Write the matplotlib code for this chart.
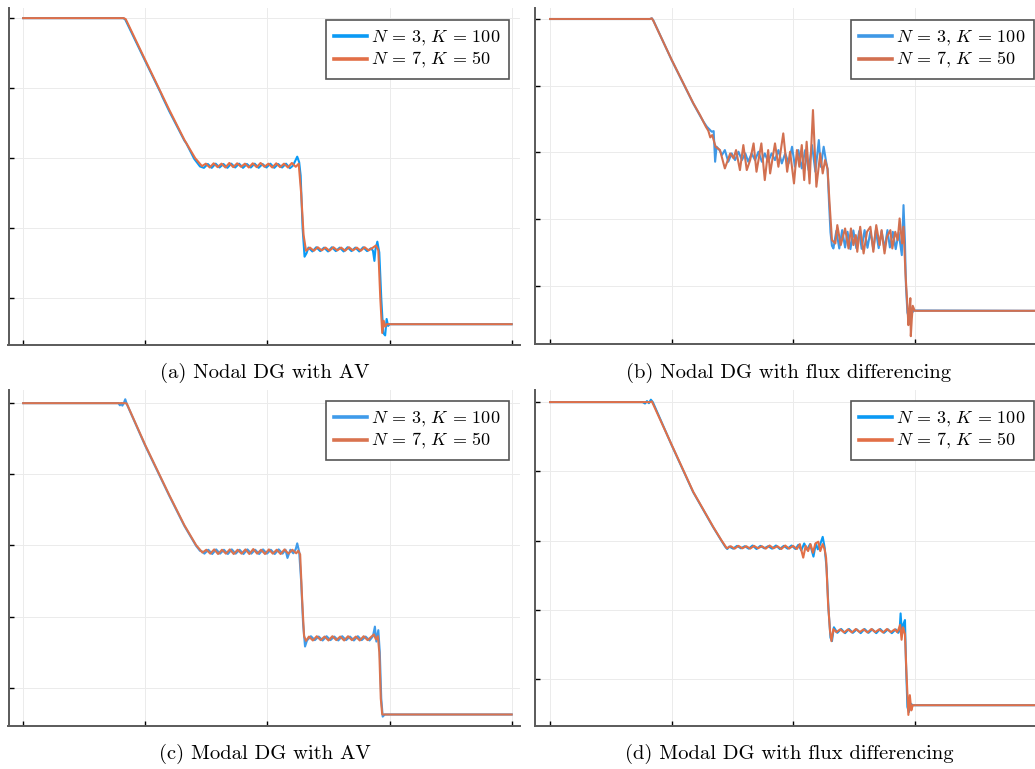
import numpy as np
import matplotlib
matplotlib.use("Agg")
import matplotlib.pyplot as plt

plt.rcParams["mathtext.fontset"] = "cm"

# density profiles, (x, rho) pairs
a_blue = [
    (0.0, 1.0), (0.205, 1.0), (0.209, 0.996), (0.250, 0.877), (0.282, 0.785), (0.285, 0.775), (0.299, 0.734),
    (0.330, 0.650), (0.334, 0.642), (0.350, 0.598), (0.362, 0.576),
    (0.370, 0.572), (0.378, 0.583), (0.386, 0.572), (0.394, 0.584), (0.402, 0.573), (0.410, 0.583), (0.418, 0.572),
    (0.426, 0.584), (0.434, 0.573), (0.442, 0.584), (0.450, 0.572), (0.458, 0.583), (0.466, 0.573), (0.474, 0.584),
    (0.482, 0.572), (0.490, 0.583), (0.498, 0.573), (0.506, 0.584), (0.514, 0.572), (0.522, 0.583), (0.530, 0.573),
    (0.538, 0.584), (0.546, 0.571), (0.552, 0.578), (0.557, 0.592), (0.561, 0.604), (0.565, 0.588), (0.568, 0.550),
    (0.572, 0.400), (0.576, 0.318), (0.580, 0.328),
    (0.584, 0.344), (0.592, 0.333), (0.600, 0.345), (0.608, 0.334), (0.616, 0.344), (0.624, 0.333), (0.632, 0.345),
    (0.640, 0.334), (0.648, 0.344), (0.656, 0.333), (0.664, 0.345), (0.672, 0.334), (0.680, 0.344), (0.688, 0.333),
    (0.696, 0.345), (0.704, 0.334), (0.712, 0.342), (0.716, 0.335), (0.719, 0.306), (0.721, 0.338), (0.725, 0.361),
    (0.729, 0.330), (0.733, 0.200), (0.737, 0.100), (0.741, 0.093), (0.744, 0.140), (0.747, 0.120), (0.750, 0.125),
    (1.0, 0.125)]
a_orange = [
    (0.0, 1.0), (0.206, 1.0), (0.210, 0.997), (0.250, 0.880), (0.299, 0.738), (0.330, 0.652), (0.352, 0.600),
    (0.366, 0.577),
    (0.374, 0.584), (0.382, 0.573), (0.390, 0.585), (0.398, 0.574), (0.406, 0.584), (0.414, 0.573), (0.422, 0.586),
    (0.430, 0.574), (0.438, 0.585), (0.446, 0.575), (0.454, 0.584), (0.462, 0.573), (0.470, 0.585), (0.478, 0.574),
    (0.486, 0.586), (0.494, 0.575), (0.502, 0.584), (0.510, 0.573), (0.518, 0.585), (0.526, 0.574), (0.534, 0.584),
    (0.542, 0.573), (0.550, 0.586), (0.558, 0.575), (0.564, 0.584), (0.569, 0.500), (0.574, 0.380), (0.579, 0.335),
    (0.587, 0.344), (0.595, 0.335), (0.603, 0.345), (0.611, 0.336), (0.619, 0.344), (0.627, 0.335), (0.635, 0.345),
    (0.643, 0.336), (0.651, 0.344), (0.659, 0.335), (0.667, 0.345), (0.675, 0.336), (0.683, 0.344), (0.691, 0.335),
    (0.699, 0.345), (0.707, 0.336), (0.715, 0.343), (0.722, 0.350), (0.727, 0.336), (0.731, 0.200), (0.735, 0.100),
    (0.738, 0.135), (0.741, 0.118), (0.744, 0.125), (1.0, 0.125)]

b_blue = [
    (0.0, 1.0), (0.205, 1.0), (0.209, 1.002), (0.212, 0.996), (0.250, 0.876), (0.294, 0.747), (0.308, 0.710),
    (0.316, 0.690), (0.322, 0.677), (0.332, 0.662), (0.336, 0.664), (0.339, 0.572), (0.342, 0.617), (0.348, 0.607),
    (0.353, 0.592), (0.359, 0.607), (0.366, 0.572), (0.373, 0.597), (0.380, 0.577), (0.387, 0.602), (0.394, 0.577),
    (0.401, 0.597), (0.407, 0.572), (0.414, 0.597), (0.421, 0.577), (0.428, 0.602), (0.435, 0.572), (0.441, 0.597),
    (0.448, 0.572), (0.455, 0.597), (0.462, 0.577), (0.469, 0.607), (0.476, 0.567), (0.483, 0.597), (0.490, 0.567),
    (0.497, 0.617), (0.503, 0.557), (0.510, 0.607), (0.517, 0.552), (0.524, 0.607), (0.531, 0.547), (0.538, 0.622),
    (0.545, 0.542), (0.552, 0.637), (0.556, 0.557), (0.562, 0.617), (0.567, 0.572), (0.570, 0.550), (0.573, 0.450),
    (0.576, 0.360), (0.579, 0.320), (0.582, 0.312),
    (0.588, 0.365), (0.594, 0.312), (0.600, 0.367), (0.606, 0.315), (0.611, 0.362), (0.617, 0.310), (0.623, 0.366),
    (0.629, 0.313), (0.635, 0.364), (0.640, 0.311), (0.646, 0.367), (0.652, 0.314), (0.658, 0.363), (0.664, 0.310),
    (0.669, 0.366), (0.675, 0.313), (0.681, 0.364), (0.687, 0.311), (0.693, 0.367), (0.698, 0.315), (0.704, 0.362),
    (0.710, 0.310), (0.716, 0.360), (0.7225, 0.292), (0.726, 0.442), (0.729, 0.330), (0.731, 0.200), (0.734, 0.120),
    (0.737, 0.105), (0.740, 0.135), (0.743, 0.118), (0.747, 0.126), (1.0, 0.125)]
b_orange = [
    (0.0, 1.0), (0.205, 1.0), (0.209, 1.002), (0.212, 0.995), (0.250, 0.877), (0.294, 0.748), (0.308, 0.712),
    (0.320, 0.677), (0.325, 0.665), (0.329, 0.645), (0.333, 0.652), (0.340, 0.617), (0.349, 0.607), (0.359, 0.552),
    (0.370, 0.597), (0.377, 0.582), (0.382, 0.607), (0.390, 0.547), (0.397, 0.622), (0.404, 0.547), (0.411, 0.577),
    (0.418, 0.627), (0.424, 0.542), (0.434, 0.627), (0.441, 0.517), (0.448, 0.607), (0.452, 0.537), (0.462, 0.627),
    (0.469, 0.557), (0.479, 0.657), (0.487, 0.542), (0.493, 0.602), (0.501, 0.507), (0.507, 0.607), (0.512, 0.557),
    (0.517, 0.622), (0.522, 0.517), (0.527, 0.632), (0.533, 0.507), (0.540, 0.727), (0.547, 0.497), (0.555, 0.597),
    (0.560, 0.537), (0.565, 0.577), (0.570, 0.550), (0.574, 0.450), (0.579, 0.337),
    (0.586, 0.327), (0.590, 0.382), (0.597, 0.322), (0.606, 0.372), (0.613, 0.312), (0.618, 0.372), (0.623, 0.322),
    (0.628, 0.352), (0.631, 0.302), (0.637, 0.377), (0.644, 0.297), (0.651, 0.362), (0.658, 0.377), (0.664, 0.302),
    (0.670, 0.382), (0.677, 0.322), (0.681, 0.367), (0.687, 0.297), (0.692, 0.347), (0.699, 0.367), (0.703, 0.312),
    (0.709, 0.362), (0.714, 0.337), (0.718, 0.402), (0.723, 0.327), (0.726, 0.377), (0.730, 0.237), (0.734, 0.140),
    (0.736, 0.082), (0.738, 0.120), (0.740, 0.163), (0.741, 0.049), (0.743, 0.100), (0.745, 0.140), (0.749, 0.125),
    (1.0, 0.125)]

c_blue = [
    (0.0, 1.0), (0.195, 1.0), (0.198, 0.994), (0.201, 1.000), (0.203, 0.993), (0.206, 1.000), (0.209, 1.011),
    (0.212, 0.998), (0.250, 0.880), (0.299, 0.740), (0.330, 0.655), (0.354, 0.599), (0.362, 0.585), (0.367, 0.583),
    (0.371, 0.577), (0.379, 0.588), (0.387, 0.576), (0.395, 0.589), (0.403, 0.577), (0.411, 0.588), (0.419, 0.576),
    (0.427, 0.589), (0.435, 0.577), (0.443, 0.588), (0.451, 0.576), (0.459, 0.589), (0.467, 0.577), (0.475, 0.588),
    (0.483, 0.576), (0.491, 0.589), (0.499, 0.577), (0.507, 0.588), (0.515, 0.576), (0.523, 0.589), (0.531, 0.577),
    (0.537, 0.588), (0.541, 0.565), (0.547, 0.588), (0.553, 0.578), (0.558, 0.590), (0.561, 0.606), (0.565, 0.582),
    (0.569, 0.500), (0.573, 0.380), (0.577, 0.316), (0.581, 0.333),
    (0.589, 0.345), (0.597, 0.334), (0.605, 0.344), (0.613, 0.333), (0.621, 0.345), (0.629, 0.334), (0.637, 0.344),
    (0.645, 0.333), (0.653, 0.345), (0.661, 0.334), (0.669, 0.344), (0.677, 0.333), (0.685, 0.345), (0.693, 0.334),
    (0.701, 0.344), (0.709, 0.333), (0.716, 0.345), (0.720, 0.372), (0.723, 0.330), (0.727, 0.362), (0.730, 0.300),
    (0.733, 0.170), (0.736, 0.119), (0.740, 0.125), (1.0, 0.125)]
c_orange = [
    (0.0, 1.0), (0.208, 1.0), (0.212, 0.999), (0.250, 0.882), (0.299, 0.742), (0.330, 0.657), (0.354, 0.601),
    (0.367, 0.580),
    (0.375, 0.588), (0.383, 0.577), (0.391, 0.589), (0.399, 0.576), (0.407, 0.588), (0.415, 0.577), (0.423, 0.589),
    (0.431, 0.576), (0.439, 0.588), (0.447, 0.577), (0.455, 0.589), (0.463, 0.576), (0.471, 0.590), (0.479, 0.577),
    (0.487, 0.588), (0.495, 0.576), (0.503, 0.589), (0.511, 0.577), (0.519, 0.588), (0.527, 0.576), (0.535, 0.589),
    (0.543, 0.577), (0.551, 0.588), (0.559, 0.578), (0.563, 0.585), (0.567, 0.575), (0.571, 0.450), (0.575, 0.345),
    (0.579, 0.332),
    (0.585, 0.344), (0.593, 0.333), (0.601, 0.345), (0.609, 0.334), (0.617, 0.344), (0.625, 0.333), (0.633, 0.345),
    (0.641, 0.334), (0.649, 0.344), (0.657, 0.333), (0.665, 0.345), (0.673, 0.334), (0.681, 0.344), (0.689, 0.333),
    (0.697, 0.345), (0.705, 0.334), (0.713, 0.344), (0.718, 0.350), (0.722, 0.336), (0.726, 0.345), (0.729, 0.300),
    (0.732, 0.170), (0.735, 0.125), (1.0, 0.125)]

d_blue = [
    (0.0, 1.0), (0.190, 1.0), (0.195, 0.996), (0.199, 1.003), (0.203, 0.997), (0.207, 1.007), (0.211, 1.000),
    (0.250, 0.875), (0.294, 0.740), (0.335, 0.639), (0.352, 0.600), (0.360, 0.582), (0.364, 0.576),
    (0.368, 0.583), (0.376, 0.577), (0.384, 0.585), (0.392, 0.578), (0.400, 0.584), (0.408, 0.577), (0.416, 0.586),
    (0.424, 0.576), (0.432, 0.585), (0.440, 0.578), (0.448, 0.584), (0.456, 0.577), (0.464, 0.586), (0.472, 0.576),
    (0.480, 0.585), (0.488, 0.577), (0.496, 0.586), (0.504, 0.576), (0.510, 0.588), (0.516, 0.572), (0.522, 0.592),
    (0.528, 0.574), (0.534, 0.590), (0.541, 0.554), (0.546, 0.592), (0.550, 0.575), (0.555, 0.590), (0.560, 0.611),
    (0.564, 0.580), (0.568, 0.520), (0.572, 0.400), (0.576, 0.320), (0.579, 0.310), (0.583, 0.350),
    (0.590, 0.334), (0.598, 0.345), (0.606, 0.333), (0.614, 0.345), (0.622, 0.334), (0.630, 0.344), (0.638, 0.333),
    (0.646, 0.345), (0.654, 0.334), (0.662, 0.344), (0.670, 0.333), (0.678, 0.345), (0.686, 0.334), (0.694, 0.344),
    (0.702, 0.333), (0.710, 0.344), (0.715, 0.334), (0.718, 0.340), (0.720, 0.390), (0.723, 0.330), (0.726, 0.360),
    (0.729, 0.371), (0.731, 0.250), (0.734, 0.120), (0.737, 0.105), (0.740, 0.130), (0.745, 0.125), (1.0, 0.125)]
d_orange = [
    (0.0, 1.0), (0.205, 1.0), (0.209, 1.002), (0.213, 0.990), (0.250, 0.876), (0.294, 0.741), (0.335, 0.640),
    (0.352, 0.601), (0.363, 0.578),
    (0.371, 0.584), (0.379, 0.577), (0.387, 0.585), (0.395, 0.578), (0.403, 0.584), (0.411, 0.577), (0.419, 0.585),
    (0.427, 0.578), (0.435, 0.584), (0.443, 0.577), (0.451, 0.586), (0.459, 0.578), (0.467, 0.584), (0.475, 0.576),
    (0.483, 0.586), (0.491, 0.577), (0.499, 0.585), (0.507, 0.576), (0.513, 0.590), (0.520, 0.551), (0.525, 0.585),
    (0.530, 0.570), (0.535, 0.590), (0.540, 0.565), (0.545, 0.592), (0.551, 0.597), (0.555, 0.570), (0.560, 0.590),
    (0.564, 0.575), (0.567, 0.550), (0.571, 0.420), (0.575, 0.340), (0.578, 0.310), (0.582, 0.345),
    (0.588, 0.336), (0.596, 0.344), (0.604, 0.335), (0.612, 0.344), (0.620, 0.335), (0.628, 0.345), (0.636, 0.336),
    (0.644, 0.344), (0.652, 0.335), (0.660, 0.345), (0.668, 0.336), (0.676, 0.344), (0.684, 0.335), (0.692, 0.345),
    (0.700, 0.336), (0.708, 0.344), (0.713, 0.336), (0.716, 0.345), (0.719, 0.357), (0.722, 0.314), (0.725, 0.350),
    (0.729, 0.330), (0.732, 0.220), (0.736, 0.097), (0.739, 0.154), (0.742, 0.110), (0.745, 0.125), (1.0, 0.125)]

labels = [r"$N\,=\,3,\,K\,=\,100$", r"$N\,=\,7,\,K\,=\,50$"]
captions = ["(a) Nodal DG with AV", "(b) Nodal DG with flux differencing",
            "(c) Modal DG with AV", "(d) Modal DG with flux differencing"]
xticks = [0.0, 0.25, 0.5, 0.75, 1.0]
yticks = [0.2, 0.4, 0.6, 0.8, 1.0]

W, H = 1035, 769
fig = plt.figure(figsize=(W / 100, H / 100), dpi=100)

# (rect in px: left, top, right, bottom), xlim, ylim, colors, legend anchor px, caption px
panels = [
    ((8.5, 8, 520, 344.5), (-0.030, 1.017), (0.067, 1.029), ("#0a9af5", "#e26f47"), (509, 20), (265, 373), a_blue, a_orange),
    ((535, 8, 1051.5, 344), (-0.031, 1.030), (0.0255, 1.033), ("#3f98e6", "#d27050"), (1034, 20), (789, 373), b_blue, b_orange),
    ((8.5, 390, 520, 725.7), (-0.030, 1.017), (0.0935, 1.037), ("#3f9bea", "#d9734f"), (509, 401), (265, 754), c_blue, c_orange),
    ((535, 390, 1051.5, 726), (-0.031, 1.030), (0.065, 1.035), ("#0a9af5", "#e26f47"), (1034, 401), (789, 754), d_blue, d_orange),
]

for i, (rect, xl, yl, cols, lg, cap, blue, orange) in enumerate(panels):
    l, t, r, b = rect
    ax = fig.add_axes([l / W, 1 - b / H, (r - l) / W, (b - t) / H])
    for data, c, lab in [(blue, cols[0], labels[0]), (orange, cols[1], labels[1])]:
        xy = np.array(data)
        ax.plot(xy[:, 0], xy[:, 1], color=c, lw=1.5, label=lab)
    ax.set_xlim(*xl)
    ax.set_ylim(*yl)
    ax.set_xticks(xticks)
    ax.set_yticks(yticks)
    ax.tick_params(direction="in", length=3.5, width=1, color="black",
                   labelbottom=False, labelleft=False)
    ax.grid(True, color="#ebebeb", lw=0.7)
    ax.set_axisbelow(True)
    for s in ["top", "right"]:
        ax.spines[s].set_visible(False)
    for s in ["left", "bottom"]:
        ax.spines[s].set_color("#5a5a5a")
        ax.spines[s].set_linewidth(1.4)
    leg = ax.legend(loc="upper right", bbox_to_anchor=(lg[0] / W, 1 - lg[1] / H),
                    bbox_transform=fig.transFigure, borderaxespad=0, fontsize=13,
                    handlelength=1.8, handletextpad=0.25, labelspacing=0.15,
                    borderpad=0.45, fancybox=False, framealpha=1)
    leg.get_frame().set_edgecolor("#555555")
    leg.get_frame().set_linewidth(1.2)
    for h in leg.get_lines():
        h.set_linewidth(2.6)
    fig.text(cap[0] / W, 1 - cap[1] / H, captions[i], ha="center", va="center",
             fontfamily="cmr10", fontsize=14.8)

fig.savefig("out.png", dpi=100)
